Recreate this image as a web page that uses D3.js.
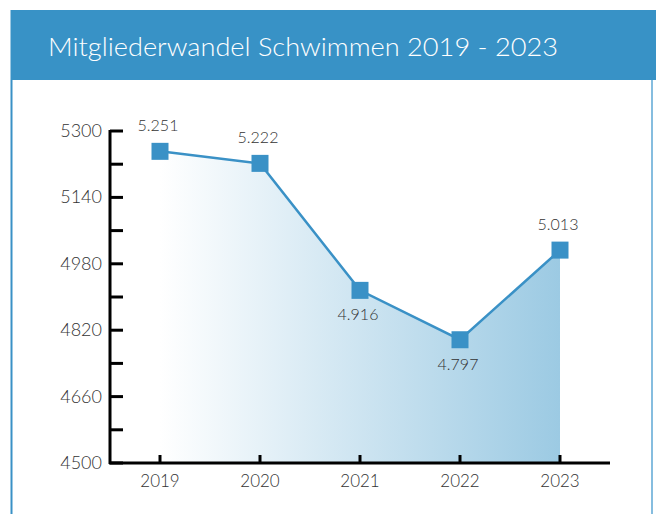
<!DOCTYPE html>
<html>
<head>
<meta charset="utf-8">
<script src="https://cdn.jsdelivr.net/npm/d3@7"></script>
<style>
  body { margin: 0; background: #fff; }
  svg { display: block; font-family: "Lato", "Open Sans", sans-serif; }
</style>
</head>
<body>
<svg id="chart" width="656" height="514"></svg>
<script>
const years = ["2019", "2020", "2021", "2022", "2023"];
const members = [5251, 5222, 4916, 4797, 5013];
const labels = ["5.251", "5.222", "4.916", "4.797", "5.013"];
const labelAbove = [true, true, false, false, true];
const yTicks = [4500, 4580, 4660, 4740, 4820, 4900, 4980, 5060, 5140, 5220, 5300];
const yLabelTicks = [4500, 4660, 4820, 4980, 5140, 5300];

let svg = d3.select("#chart");

// frame + header
svg.append("line").attr("x1", 11.5).attr("x2", 11.5).attr("y1", 10).attr("y2", 514)
  .attr("stroke", "#3a91c6").attr("stroke-width", 2);
svg.append("line").attr("x1", 652).attr("x2", 652).attr("y1", 10).attr("y2", 514)
  .attr("stroke", "#86bddf").attr("stroke-width", 2);
svg.append("rect").attr("x", 11).attr("y", 10).attr("width", 645).attr("height", 70)
  .attr("fill", "#3892c6");
svg.append("text").text("Mitgliederwandel Schwimmen 2019 - 2023")
  .attr("x", 48).attr("y", 56).attr("fill", "#fff").attr("font-weight", 300)
  .attr("font-size", 25).attr("textLength", 510).attr("lengthAdjust", "spacingAndGlyphs");

let x = d3.scalePoint().domain(years).range([160, 560]);
let y = d3.scaleLinear().domain([4500, 5300]).range([463, 131]);

// gradient fill
let grad = svg.append("defs").append("linearGradient").attr("id", "fillGrad")
  .attr("gradientUnits", "userSpaceOnUse")
  .attr("x1", x("2019")).attr("x2", x("2023")).attr("y1", 0).attr("y2", 0);
grad.append("stop").attr("offset", 0).attr("stop-color", "#ffffff");
grad.append("stop").attr("offset", 1).attr("stop-color", "#9ccae3");

let data = years.map((yr, i) => ({year: yr, v: members[i], label: labels[i], above: labelAbove[i]}));

let area = d3.area().x(d => x(d.year)).y0(y(4500)).y1(d => y(d.v));
svg.append("path").datum(data).attr("d", area).attr("fill", "url(#fillGrad)");

let line = d3.line().x(d => x(d.year)).y(d => y(d.v));
svg.append("path").datum(data).attr("d", line)
  .attr("fill", "none").attr("stroke", "#3a91c6").attr("stroke-width", 2.5);

// y axis
let yAxis = svg.append("g");
yAxis.append("line").attr("x1", 110).attr("x2", 110).attr("y1", y(5300) - 1).attr("y2", y(4500) + 1)
  .attr("stroke", "#000").attr("stroke-width", 3);
yAxis.selectAll(".tk").data(yTicks).enter().append("line")
  .attr("x1", 110).attr("x2", 123).attr("y1", d => y(d)).attr("y2", d => y(d))
  .attr("stroke", "#000").attr("stroke-width", 3);
yAxis.selectAll("text").data(yLabelTicks).enter().append("text")
  .text(d => d).attr("x", 102).attr("y", d => y(d) + 6)
  .attr("text-anchor", "end").attr("font-size", 18).attr("fill", "#333").attr("font-weight", 300);

// x axis
let xAxis = svg.append("g");
xAxis.append("line").attr("x1", 109).attr("x2", 610).attr("y1", 463).attr("y2", 463)
  .attr("stroke", "#000").attr("stroke-width", 3);
xAxis.selectAll(".tk").data(years).enter().append("line")
  .attr("x1", d => x(d)).attr("x2", d => x(d)).attr("y1", 463).attr("y2", 455)
  .attr("stroke", "#000").attr("stroke-width", 3);
xAxis.selectAll("text").data(years).enter().append("text")
  .text(d => d).attr("x", d => x(d)).attr("y", 487)
  .attr("text-anchor", "middle").attr("font-size", 17).attr("fill", "#333").attr("font-weight", 300);

// markers
svg.selectAll(".mk").data(data).enter().append("rect")
  .attr("x", d => x(d.year) - 8.5).attr("y", d => y(d.v) - 8.5)
  .attr("width", 17).attr("height", 17).attr("fill", "#3a91c6");

// value labels
svg.selectAll(".vl").data(data).enter().append("text")
  .text(d => d.label).attr("x", d => x(d.year) - 2)
  .attr("y", d => d.above ? y(d.v) - 20 : y(d.v) + 30)
  .attr("text-anchor", "middle").attr("font-size", 16).attr("fill", "#333").attr("font-weight", 300);
</script>
</body>
</html>
